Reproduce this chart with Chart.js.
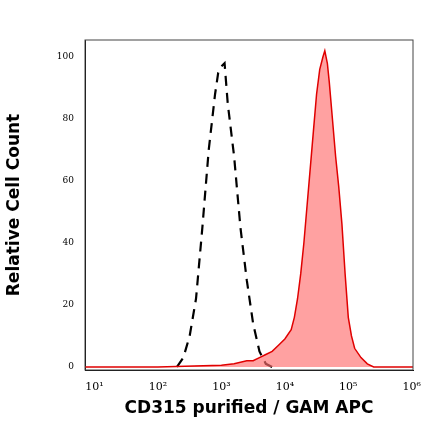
<!DOCTYPE html><html><head><script src="https://cdn.jsdelivr.net/npm/chart.js"></script>
<style>html,body{margin:0;background:#fff}</style></head><body>
<canvas id="c" width="440" height="441"></canvas>
<script>
const isoX=[2.3,2.4,2.5,2.6,2.7,2.8,2.9,2.95,3.0,3.05,3.1,3.2,3.3,3.4,3.5,3.6,3.7,3.8];
const isoY=[0,3,10,22,45,70,88,95,97,98,85,68,45,28,14,5,1,0];
const cdX=[0.85,2.0,3.0,3.2,3.4,3.5,3.6,3.7,3.8,3.9,4.0,4.1,4.15,4.2,4.25,4.3,4.35,4.4,4.45,4.5,4.55,4.6,4.63,4.67,4.7,4.75,4.8,4.85,4.9,4.95,5.0,5.05,5.1,5.2,5.3,5.4,6.02];
const cdY=[0,0,0.5,1,2,2,3,4,5,7,9,12,16,22,30,40,52,64,76,88,96,100,102,98,92,80,68,58,46,30,16,10,6,3,1,0,0];
const tickLabels={1:'10¹',2:'10²',3:'10³',4:'10⁴',5:'10⁵',6:'10⁶'};
const pts=(xs,ys)=>xs.map((x,i)=>({x,y:ys[i]}));
new Chart(document.getElementById('c'),{type:'scatter',
data:{datasets:[
{data:pts(cdX,cdY),showLine:true,borderColor:'#e00000',backgroundColor:'rgba(255,110,110,0.65)',fill:'origin',borderWidth:1.5,pointRadius:0,tension:0},
{data:pts(isoX,isoY),showLine:true,borderColor:'#000',borderDash:[10,7],borderWidth:2.2,pointRadius:0,fill:false,tension:0}
]},
options:{responsive:false,animation:false,layout:{padding:{top:40,right:27}},
plugins:{legend:{display:false},tooltip:{enabled:false}},
scales:{
x:{type:'linear',min:0.85,max:6.02,grid:{display:false,drawTicks:true},border:{color:'#000'},
 afterBuildTicks:a=>{a.ticks=[1,2,3,4,5,6].map(v=>({value:v}));},
 afterFit:a=>{a.height=71},
 ticks:{color:'#000',font:{family:'DejaVu Serif',size:11},callback:v=>tickLabels[v]||''},
 title:{display:true,text:'CD315 purified / GAM APC',color:'#000',padding:{top:4,bottom:22},font:{family:'DejaVu Sans',weight:'bold',size:17}}},
y:{min:-1,max:105.5,grid:{display:false},border:{color:'#000'},
 afterBuildTicks:a=>{const t=[];for(let v=0;v<=105;v+=5)t.push({value:v});a.ticks=t;},
 afterFit:a=>{a.width=85},
 ticks:{color:'#000',font:{family:'DejaVu Serif',size:9},autoSkip:false,callback:v=>v%20===0?v:''},
 title:{display:true,text:'Relative Cell Count',color:'#000',padding:{top:4,bottom:12},font:{family:'DejaVu Sans',weight:'bold',size:17}}}
}},
plugins:[{id:'box',afterDraw(c){const a=c.chartArea,x=c.ctx;x.save();x.strokeStyle='#444';x.lineWidth=1;x.strokeRect(a.left,a.top,a.right-a.left,a.bottom-a.top);x.restore();}}]
});
</script></body></html>
